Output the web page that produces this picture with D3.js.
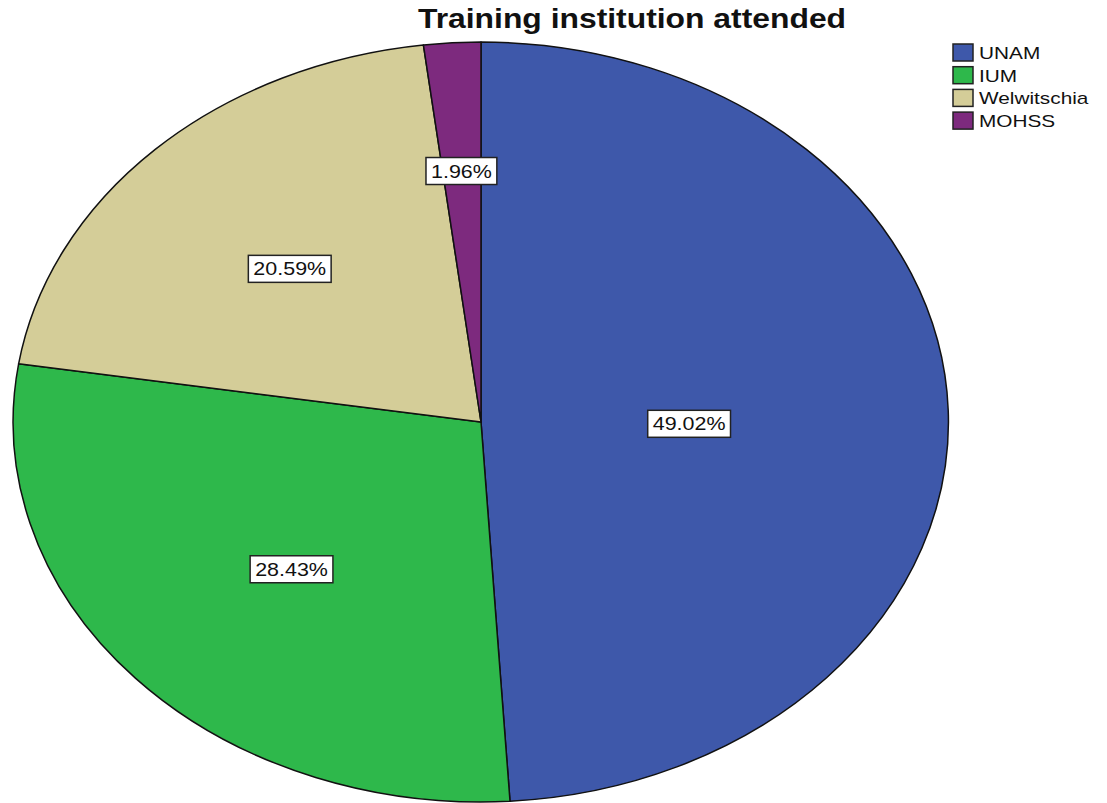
<!DOCTYPE html>
<html>
<head>
<meta charset="utf-8">
<script src="https://cdn.jsdelivr.net/npm/d3@7"></script>
<style>
  html, body { margin: 0; padding: 0; background: #fff; }
  svg { display: block; }
  text { font-family: "Liberation Sans", Arial, sans-serif; }
</style>
</head>
<body>
<svg id="chart" width="1107" height="803"></svg>
<script>
const categories = ["UNAM", "IUM", "Welwitschia", "MOHSS"];
const values = [49.02, 28.43, 20.59, 1.96];
const colors = ["#3E58AA", "#2EB84B", "#D4CD98", "#7D2A7E"];
const title = "Training institution attended";

const svg = d3.select("#chart");
const cx = 481, cy = 422, rx = 468, ry = 380;

const data = categories.map((c, i) => ({ name: c, value: values[i], color: colors[i] }));
const pie = d3.pie().value(d => d.value).sort(null).startAngle(0).endAngle(2 * Math.PI);
const arcs = pie(data);
const arcGen = d3.arc().innerRadius(0).outerRadius(1);

const g = svg.append("g").attr("transform", `translate(${cx},${cy}) scale(${rx},${ry})`);
g.selectAll("path").data(arcs).join("path")
  .attr("d", arcGen)
  .attr("fill", d => d.data.color)
  .attr("stroke", "#111")
  .attr("stroke-width", 1.5)
  .attr("vector-effect", "non-scaling-stroke")
  .attr("stroke-linejoin", "round");

// Labels
const total = d3.sum(values);
const lg = svg.append("g");
arcs.forEach(a => {
  const mid = (a.startAngle + a.endAngle) / 2;
  const share = a.data.value / total;
  const f = 0.69 - 0.5 * share;
  const x = cx + rx * f * Math.sin(mid);
  const y = cy - ry * f * Math.cos(mid) + 7;
  const grp = lg.append("g").attr("transform", `translate(${x},${y})`);
  const rect = grp.append("rect");
  const t = grp.append("text")
    .attr("text-anchor", "middle")
    .attr("dominant-baseline", "central")
    .attr("font-size", 19)
    .attr("fill", "#111")
    .attr("transform", "scale(1.13,1)")
    .text(d3.format(".2f")(a.data.value) + "%");
  const bb = t.node().getBBox();
  const w = bb.width * 1.13 + 10, h = 27;
  rect.attr("x", -w / 2).attr("y", -h / 2).attr("width", w).attr("height", h)
    .attr("fill", "#fff").attr("stroke", "#222").attr("stroke-width", 1.5);
});

// Title
svg.append("text")
  .attr("transform", "translate(632,28) scale(1.18,1)")
  .attr("text-anchor", "middle")
  .attr("font-size", 27)
  .attr("font-weight", "bold")
  .attr("fill", "#111")
  .text(title);

// Legend
const leg = svg.append("g").attr("transform", "translate(953,44)");
const rowH = 22.7;
const items = leg.selectAll("g").data(data).join("g")
  .attr("transform", (d, i) => `translate(0,${i * rowH})`);
items.append("rect")
  .attr("width", 20).attr("height", 17)
  .attr("fill", d => d.color)
  .attr("stroke", "#222").attr("stroke-width", 1.5);
items.append("text")
  .attr("transform", "translate(26,15) scale(1.3,1)")
  .attr("font-size", 16)
  .attr("fill", "#111")
  .text(d => d.name);
</script>
</body>
</html>
